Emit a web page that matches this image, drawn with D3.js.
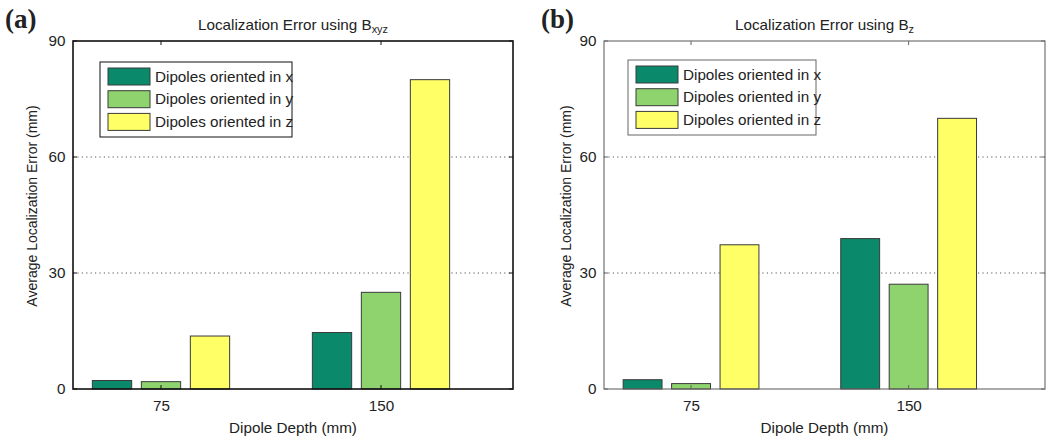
<!DOCTYPE html>
<html><head><meta charset="utf-8">
<script src="https://cdn.jsdelivr.net/npm/d3@7"></script>
<style>body{margin:0;background:#fff}svg{display:block}text{font-family:"Liberation Sans",Arial,sans-serif;fill:#222}</style>
</head><body><svg id="c" width="1050" height="440"></svg>
<script>
const depths = [75, 150];
const seriesNames = ["Dipoles oriented in x", "Dipoles oriented in y", "Dipoles oriented in z"];
const seriesColors = ["#0a8a6a", "#8fd36e", "#ffff66"];
// panel (a): B_xyz
const bxyzX = [2.2, 14.6];
const bxyzY = [1.9, 25.0];
const bxyzZ = [13.7, 80.0];
// panel (b): B_z
const bzX = [2.4, 38.9];
const bzY = [1.4, 27.1];
const bzZ = [37.3, 70.0];
const yTicks = [0, 30, 60, 90];
const gridTicks = [30, 60];

const svg = d3.select("#c");
const SX = 1.09;

function htext(g, x, y, size) {
  return g.append("text").attr("transform", `translate(${x},${y}) scale(${SX},1)`).attr("font-size", size);
}

function panel(cfg) {
  const {left, right, top, bottom, xDomain, label, titleMain, titleSub, data, axisColor, axisWidth, legend, ylabX, ylabY} = cfg;
  const x = d3.scaleLinear().domain(xDomain).range([left, right]);
  const y = d3.scaleLinear().domain([0, 90]).range([bottom, top]);
  const g = svg.append("g");
  const offUnits = 16.7, barUnits = 13.4;

  // grid
  g.selectAll(".grid").data(gridTicks).enter().append("line")
    .attr("x1", left).attr("x2", right).attr("y1", d => y(d)).attr("y2", d => y(d))
    .attr("stroke", "#555").attr("stroke-width", 1).attr("stroke-dasharray", "1.2,3.2");

  // bars
  data.forEach((vals, si) => {
    g.selectAll(".b" + si).data(depths.map((d, i) => ({d, v: vals[i]}))).enter().append("rect")
      .attr("x", d => x(d.d + (si - 1) * offUnits - barUnits / 2))
      .attr("width", d => x(d.d + barUnits / 2) - x(d.d - barUnits / 2))
      .attr("y", d => y(d.v))
      .attr("height", d => y(0) - y(d.v))
      .attr("fill", seriesColors[si]).attr("stroke", "#3a3a3a").attr("stroke-width", 1);
  });

  // axes: bottom & left with labels
  const xAxis = d3.axisBottom(x).tickValues(depths).tickSize(0).tickPadding(12);
  const gx = g.append("g").attr("transform", `translate(0,${bottom})`).call(xAxis);
  gx.select(".domain").remove();
  gx.selectAll("text").attr("font-size", 14).attr("font-family", "Liberation Sans, Arial, sans-serif").attr("fill", "#222")
    .attr("transform", `scale(${SX},1)`);
  const yAxis = d3.axisLeft(y).tickValues(yTicks).tickSize(0).tickPadding(7);
  const gy = g.append("g").attr("transform", `translate(${left},0)`).call(yAxis);
  gy.select(".domain").remove();
  gy.selectAll("text").attr("font-size", 14).attr("font-family", "Liberation Sans, Arial, sans-serif").attr("fill", "#222")
    .attr("transform", `scale(${SX},1)`);

  // inward ticks
  const tl = 4;
  depths.forEach(d => {
    g.append("line").attr("x1", x(d)).attr("x2", x(d)).attr("y1", top).attr("y2", top + tl).attr("stroke", axisColor).attr("stroke-width", 1);
    g.append("line").attr("x1", x(d)).attr("x2", x(d)).attr("y1", bottom).attr("y2", bottom - tl).attr("stroke", axisColor).attr("stroke-width", 1);
  });
  yTicks.forEach(v => {
    g.append("line").attr("x1", left).attr("x2", left + tl).attr("y1", y(v)).attr("y2", y(v)).attr("stroke", axisColor).attr("stroke-width", 1);
    g.append("line").attr("x1", right).attr("x2", right - tl).attr("y1", y(v)).attr("y2", y(v)).attr("stroke", axisColor).attr("stroke-width", 1);
  });

  // box
  g.append("rect").attr("x", left).attr("y", top).attr("width", right - left).attr("height", bottom - top)
    .attr("fill", "none").attr("stroke", axisColor).attr("stroke-width", axisWidth);

  // title
  const t = htext(g, (left + right) / 2, 30, 14).attr("text-anchor", "middle");
  t.append("tspan").text(titleMain);
  t.append("tspan").attr("font-size", 10).attr("dy", 3).text(titleSub);

  // x label
  htext(g, (left + right) / 2, 433, 14).attr("text-anchor", "middle").text("Dipole Depth (mm)");
  // y label
  g.append("text").attr("transform", `translate(${ylabX},${ylabY}) rotate(-90)`).attr("text-anchor", "middle").attr("font-size", 14).text("Average Localization Error (mm)");

  // panel label
  g.append("text").attr("x", cfg.pl[0]).attr("y", cfg.pl[1])
    .attr("font-weight", "bold").attr("font-size", 27).style("font-family", "Liberation Serif, Times New Roman, serif").attr("fill", "#111").text(label);

  // legend
  const L = legend;
  g.append("rect").attr("x", L.x).attr("y", L.y).attr("width", L.w).attr("height", L.h).attr("fill", "#fff").attr("stroke", axisColor).attr("stroke-width", 1);
  seriesNames.forEach((n, i) => {
    const ry = L.y + 6 + i * 22.7;
    g.append("rect").attr("x", L.x + 8).attr("y", ry).attr("width", 42).attr("height", 17).attr("fill", seriesColors[i]).attr("stroke", "#3a3a3a").attr("stroke-width", 1);
    htext(g, L.x + 55, ry + 13.5, 14).text(n);
  });
}

panel({left: 73, right: 513, top: 41, bottom: 389, xDomain: [45, 195], label: "(a)", titleMain: "Localization Error using B", titleSub: "xyz",
  data: [bxyzX, bxyzY, bxyzZ], axisColor: "#111", axisWidth: 1.6, legend: {x: 100, y: 62, w: 192, h: 75}, ylabX: 37, ylabY: 206, pl: [5, 28]});
panel({left: 604, right: 1045, top: 41, bottom: 389, xDomain: [45, 197], label: "(b)", titleMain: "Localization Error using B", titleSub: "z",
  data: [bzX, bzY, bzZ], axisColor: "#666", axisWidth: 1.1, legend: {x: 628, y: 60, w: 188, h: 75}, ylabX: 571, ylabY: 206, pl: [541, 28]});
</script></body></html>
